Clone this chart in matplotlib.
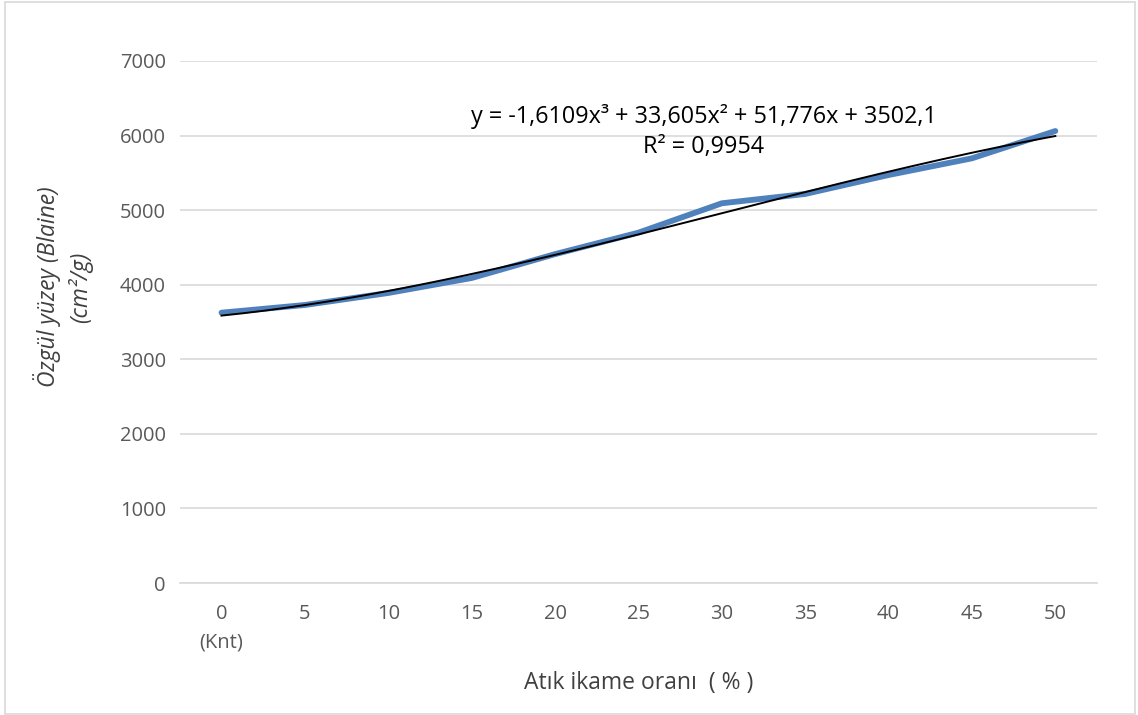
import numpy as np
import matplotlib.pyplot as plt

# veriler
oranlar = ['0\n(Knt)', '5', '10', '15', '20', '25', '30', '35', '40', '45', '50']
blaine = [3625, 3728, 3889, 4090, 4410, 4698, 5092, 5217, 5471, 5695, 6061]
# Excel polinom eğilim çizgisi katsayıları (grafikteki denklem)
trend_katsayi = [-1.6109, 33.605, 51.776, 3502.1]
yticks = [0, 1000, 2000, 3000, 4000, 5000, 6000, 7000]

plt.rcParams['font.family'] = ['Open Sans', 'DejaVu Sans']

fig = plt.figure(figsize=(11.38, 7.15), dpi=100)
ax = fig.add_axes([0.158, 0.1846, 0.806, 0.7301])

x = np.arange(1, len(blaine) + 1)
ax.plot(x, blaine, color='#4F81BD', lw=4.2, solid_capstyle='round', zorder=2)

xs = np.linspace(1, len(blaine), 200)
ax.plot(xs, np.polyval(trend_katsayi, xs), color='black', lw=1.4, zorder=3)

ax.set_xlim(0.5, len(blaine) + 0.5)
ax.set_ylim(0, 7000)
ax.set_yticks(yticks)
ax.set_xticks(x)
ax.set_xticklabels(oranlar, linespacing=1.6)
ax.tick_params(axis='both', length=0, labelsize=14.5, colors='#595959', pad=10)
ax.tick_params(axis='x', pad=15)
ax.grid(axis='y', color='#D9D9D9', lw=1.2)
ax.set_axisbelow(True)
for s in ['top', 'right', 'left']:
    ax.spines[s].set_visible(False)
ax.spines['bottom'].set_color('#D9D9D9')
ax.spines['bottom'].set_linewidth(1.2)

ax.set_xlabel('Atık ikame oranı  ( % )', fontsize=16.5, color='#404040', labelpad=13)
ax.set_ylabel('Özgül yüzey (Blaine)\n(cm²/g)', fontsize=16.5, color='#404040',
              style='italic', linespacing=1.35, va='center', ha='center')
ax.yaxis.set_label_coords(-0.127, 0.567)

ax.text(0.571, 0.893, 'y = -1,6109x³ + 33,605x² + 51,776x + 3502,1',
        transform=ax.transAxes, ha='center', va='center', fontsize=16.8, color='black')
ax.text(0.571, 0.835, 'R² = 0,9954', transform=ax.transAxes,
        ha='center', va='center', fontsize=16.8, color='black')

fig.patches.append(plt.Rectangle((0.004, 0.002), 0.993, 0.995, transform=fig.transFigure,
                                 fill=False, edgecolor='#D9D9D9', lw=1.2))

fig.savefig('out.png', dpi=100)
